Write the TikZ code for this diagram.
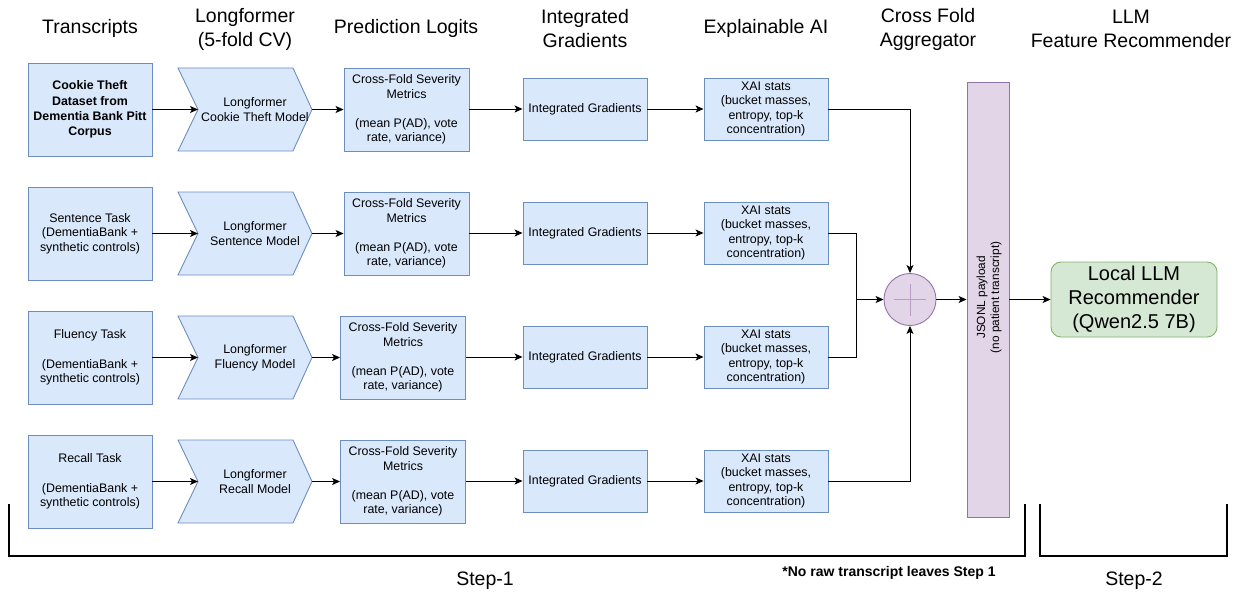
\documentclass[tikz,border=0pt]{standalone}
\usepackage{fontspec}
\setmainfont{Liberation Sans}
\usetikzlibrary{arrows.meta,calc}
\definecolor{bfill}{HTML}{DAE8FC}
\definecolor{bdraw}{HTML}{6C8EBF}
\definecolor{pfill}{HTML}{E1D5E7}
\definecolor{pdraw}{HTML}{9673A6}
\definecolor{gfill}{HTML}{D5E8D4}
\definecolor{gdraw}{HTML}{82B366}
\begin{document}
\begin{tikzpicture}[x=1pt,y=-1pt,
  txt/.style={font=\fontsize{12.4}{14.6}\selectfont, align=center, inner sep=0},
  box/.style={txt, draw=bdraw, fill=bfill, line width=0.9},
  srcbox/.style={box, minimum width=124, minimum height=93},
  midbox/.style={box, minimum width=124, minimum height=62},
  predbox/.style={box, minimum width=125, minimum height=83},
  chev/.style={draw=bdraw, fill=bfill, line width=0.9},
  hdr/.style={font=\fontsize{19.5}{24}\selectfont, align=center, inner sep=0},
  arr/.style={-{Stealth[length=8,width=7,inset=2]}, line width=0.9, black},
  link/.style={line width=0.9, black},
  bracket/.style={line width=1.8, black}
]
\useasboundingbox (0,0) rectangle (1239,594);

% headers
\node[hdr] (h1) at (90,28) {Transcripts};
\node[hdr] (h2) at (245,29) {Longformer\\(5-fold CV)};
\node[hdr] (h3) at (406,28) {Prediction Logits};
\node[hdr] (h4) at (585,29) {Integrated\\Gradients};
\node[hdr] (h5) at (766,28) {Explainable AI};
\node[hdr] (h6) at (928,29) {Cross Fold\\Aggregator};
\node[hdr] (h7) at (1131,29) {LLM\\Feature Recommender};

% source boxes
\node[srcbox, font=\bfseries\fontsize{12.4}{15.3}\selectfont] (t1) at (90,109.5) {Cookie Theft\\Dataset from\\Dementia Bank Pitt\\Corpus};
\node[srcbox] (t2) at (90,233.5) {Sentence Task\\(DementiaBank +\\synthetic controls)};
\node[srcbox] (t3) at (90,357.5) {Fluency Task\\\mbox{}\\(DementiaBank +\\synthetic controls)};
\node[srcbox] (t4) at (90,481.5) {Recall Task\\\mbox{}\\(DementiaBank +\\synthetic controls)};

% chevrons
\foreach \i/\y/\lab in {1/109.5/Cookie Theft Model, 2/233.5/Sentence Model, 3/357.5/Fluency Model, 4/481.5/Recall Model}{
  \draw[chev] (178,\y-41.5) -- (293,\y-41.5) -- (312,\y) -- (293,\y+41.5) -- (178,\y+41.5) -- (198,\y) -- cycle;
  \coordinate (m\i in) at (198,\y);
  \coordinate (m\i out) at (312,\y);
  \node[txt] (m\i) at (255,\y) {Longformer\\\lab};
}

% prediction boxes
\node[predbox] (p1) at (406.5,109.5) {Cross-Fold Severity\\Metrics\\\mbox{}\\(mean P(AD), vote\\rate, variance)};
\node[predbox] (p2) at (406.5,233.5) {Cross-Fold Severity\\Metrics\\\mbox{}\\(mean P(AD), vote\\rate, variance)};
\node[predbox] (p3) at (403,357.5) {Cross-Fold Severity\\Metrics\\\mbox{}\\(mean P(AD), vote\\rate, variance)};
\node[predbox] (p4) at (403,481.5) {Cross-Fold Severity\\Metrics\\\mbox{}\\(mean P(AD), vote\\rate, variance)};

% IG and XAI boxes
\foreach \i/\y in {1/109,2/233,3/357,4/481}{
  \node[midbox] (g\i) at (585,\y) {Integrated Gradients};
  \node[midbox] (x\i) at (766,\y) {XAI stats\\(bucket masses,\\entropy, top-k\\concentration)};
}

% row connectors
\foreach \i in {1,2,3,4}{
  \draw[arr] (t\i.east |- m\i in) -- (m\i in);
  \draw[arr] (m\i out) -- (p\i.west |- m\i out);
  \draw[arr] (p\i.east |- g\i) -- (g\i.west);
  \draw[arr] (g\i.east) -- (x\i.west);
}

% aggregator
\node[circle, draw=pdraw, fill=pfill, line width=0.9, minimum size=52, inner sep=0] (agg) at (910,299.5) {};
\draw[pdraw!70, line width=0.8] ($(agg.center)+(-16,0)$) -- ($(agg.center)+(16,0)$);
\draw[pdraw!70, line width=0.8] ($(agg.center)+(0,-16)$) -- ($(agg.center)+(0,16)$);
\coordinate (mid) at (856,299.5);
\draw[arr] (x1.east) -| (agg.north);
\draw[arr] (x4.east) -| (agg.south);
\draw[link] (x2.east) -| (mid);
\draw[link] (x3.east) -| (mid);
\draw[arr] (mid) -- (agg.west);

% JSON payload bar
\node[draw=pdraw, fill=pfill, line width=0.9, minimum width=42, minimum height=435, inner sep=0] (json) at (988,299.5) {};
\node[txt, rotate=90, font=\fontsize{11.8}{14}\selectfont] (jtxt) at (989,297.5) {JSONL payload\\(no patient transcript)};
\draw[arr] (agg.east) -- (json.west);

% LLM
\node[draw=gdraw, fill=gfill, line width=0.9, rounded corners=10, minimum width=166, minimum height=75, inner sep=0, align=center, font=\fontsize{20}{24}\selectfont] (llm) at (1134,299.5) {Local LLM\\Recommender\\(Qwen2.5 7B)};
\draw[arr] (json.east |- llm.west) -- (llm.west);

% brackets
\draw[bracket] (9,504) -- (9,556) -- (1025,556) -- (1025,504);
\draw[bracket] (1040,504) -- (1040,556) -- (1227,556) -- (1227,504);
\node[hdr] (s1) at (485,581) {Step-1};
\node[txt, font=\bfseries\fontsize{14}{16}\selectfont] (note) at (889,573) {*No raw transcript leaves Step 1};
\node[hdr] (s2) at (1134,581) {Step-2};
\end{tikzpicture}
\end{document}
